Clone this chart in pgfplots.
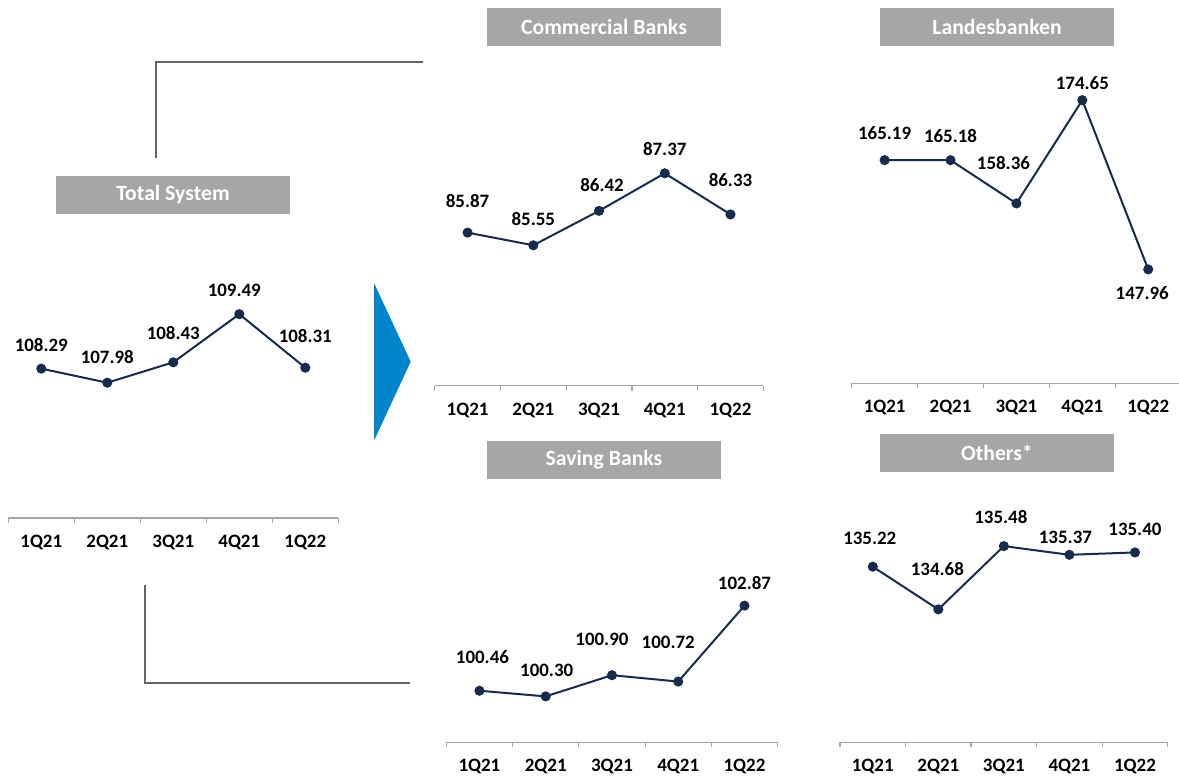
\documentclass[border=0pt]{standalone}
\usepackage{fontspec}
\setmainfont{Carlito}
\usepackage{pgfplots}
\usepackage{pgfplotstable}
\pgfplotsset{compat=1.18}
\definecolor{navy}{HTML}{172B4D}
\definecolor{axgray}{HTML}{A6A6A6}
\definecolor{boxgray}{HTML}{A6A6A6}
\definecolor{congray}{HTML}{666666}
\definecolor{arrowblue}{HTML}{0085CC}

\pgfplotstableread{
x y dx dy
1 108.29 0 24
2 107.98 0 26
3 108.43 0 29
4 109.49 -5 24
5 108.31 0 32
}\total
\pgfplotstableread{
x y dx dy
1 85.87 0 32
2 85.55 0 26
3 86.42 3 26
4 87.37 0 24
5 86.33 0 34
}\commercial
\pgfplotstableread{
x y dx dy
1 165.19 0 27
2 165.18 0 24
3 158.36 -13 40
4 174.65 0 17
5 147.96 -6 -24
}\landes
\pgfplotstableread{
x y dx dy
1 100.46 3 34
2 100.30 1 26
3 100.90 -10 36
4 100.72 -10 39
5 102.87 0 23
}\saving
\pgfplotstableread{
x y dx dy
1 135.22 -3 28
2 134.68 -1 40
3 135.48 -3 29
4 135.37 -4 17
5 135.40 0 23
}\others

\pgfplotsset{
  panel/.style={
    scale only axis, clip=false,
    axis x line=bottom, axis y line=none,
    x axis line style={draw=axgray, line width=1.1pt, -},
    xmin=0.5, xmax=5.5,
    xtick={1,...,5},
    xticklabels={1Q21,2Q21,3Q21,4Q21,1Q22},
    major tick length=0pt,
    minor xtick={0.5,1.5,...,5.5},
    minor tick length=3.75pt,
    tick align=outside,
    minor tick style={draw=axgray, line width=0.9pt},
    xticklabel style={anchor=center, yshift=-18.5pt, font=\fontsize{14.2}{16}\selectfont\bfseries, text=black},
    anchor=south west,
  },
  series/.style={
    draw=navy, line width=1.5pt, mark=*, mark size=3pt,
    mark options={fill=navy, draw=navy},
    point meta=explicit symbolic,
    visualization depends on={\thisrow{dx} \as \dx},
    visualization depends on={\thisrow{dy} \as \dy},
    nodes near coords,
    every node near coord/.style={anchor=center, inner sep=0pt,
      font=\fontsize{14.2}{16}\selectfont\bfseries, text=black,
      xshift={\dx*0.75pt}, yshift={\dy*0.75pt}},
  },
}

\newcommand{\titlebox}[5]{%
  \fill[boxgray] (#1,#2) rectangle (#3,#4);
  \node[text=white, font=\fontsize{16.3}{18}\selectfont\bfseries, inner sep=0pt] at ({(#1+#3)/2},{(#2+#4)/2}) {#5};
}

\begin{document}
\begin{tikzpicture}[x=0.75pt, y=-0.75pt]
\useasboundingbox (0,0) rectangle (1179,777);

% connectors
\draw[congray, line width=1.8pt] (156,158) -- (156,62) -- (423,62);
\draw[congray, line width=1.8pt] (145,585) -- (145,683) -- (410,683);
% arrow
\fill[arrowblue] (374,283) -- (410.7,361.7) -- (374,440.7) -- cycle;

% title boxes
\titlebox{56}{176}{290}{214}{Total System}
\titlebox{487}{8}{721}{46}{Commercial Banks}
\titlebox{880}{8}{1114}{46}{Landesbanken}
\titlebox{487}{441}{721}{479}{Saving Banks}
\titlebox{880}{434}{1114}{472}{Others*}

\begin{axis}[panel, at={(6.225pt,-388.5pt)}, width=247.5pt, height=204.3pt, ymin=105, ymax=111]
\addplot[series] table[x=x, y=y, meta=y] {\total};
\end{axis}

\begin{axis}[panel, at={(326.025pt,-289.275pt)}, width=246.5pt, height=178pt, ymin=82, ymax=88]
\addplot[series] table[x=x, y=y, meta=y] {\commercial};
\end{axis}

\begin{axis}[panel, at={(638.775pt,-287.475pt)}, width=247.1pt, height=218.8pt, ymin=130, ymax=176]
\addplot[series] table[x=x, y=y, meta=y] {\landes};
\end{axis}

\begin{axis}[panel, at={(334.725pt,-556.725pt)}, width=248.5pt, height=119.2pt, ymin=99, ymax=103.5]
\addplot[series] table[x=x, y=y, meta=y] {\saving};
\end{axis}

\begin{axis}[panel, at={(630pt,-556.725pt)}, width=245.8pt, height=178pt, ymin=133, ymax=136]
\addplot[series] table[x=x, y=y, meta=y] {\others};
\end{axis}

\end{tikzpicture}
\end{document}
